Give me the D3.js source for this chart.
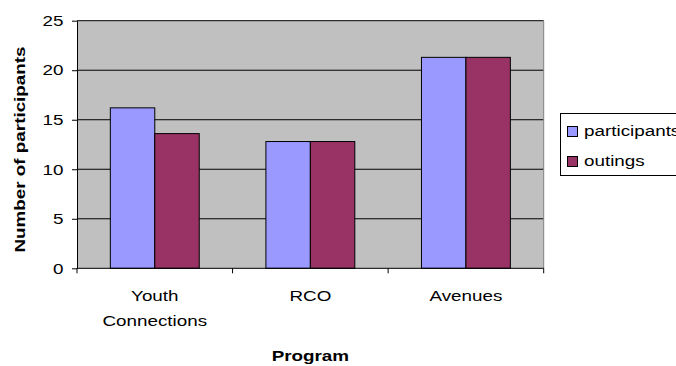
<!DOCTYPE html>
<html>
<head>
<meta charset="utf-8">
<script src="https://cdn.jsdelivr.net/npm/d3@7"></script>
<style>
  html, body { margin: 0; padding: 0; background: #fff; }
  svg { display: block; }
  text { font-family: "Liberation Sans", Arial, sans-serif; fill: #000; }
</style>
</head>
<body>
<svg id="chart" width="676" height="366"></svg>
<script>
// Program categories (multi-line labels) and the two series
const programs = ["Youth Connections", "RCO", "Avenues"];
const programLines = [["Youth", "Connections"], ["RCO"], ["Avenues"]];
const seriesNames = ["participants", "outings"];
const participants = [16.2, 12.8, 21.3];
const outings = [13.6, 12.8, 21.3];
const yTicks = [0, 5, 10, 15, 20, 25];

const colors = { participants: "#9999FF", outings: "#993366" };
const FONT = 14.5;
const STRETCH = 1.3; // wide glyph rendering of the original labels

const svg = d3.select("#chart");

const plot = { left: 77, right: 543.7, top: 20.7, bottom: 268.3 };

const x = d3.scaleBand().domain(programs).range([plot.left, plot.right]).padding(0);
const xInner = d3.scaleBand().domain(seriesNames).range([0, x.bandwidth()])
  .paddingInner(0).paddingOuter(0.75);
const y = d3.scaleLinear().domain([0, 25]).range([plot.bottom, plot.top]);

const rows = programs.map((p, i) => ({ program: p, participants: participants[i], outings: outings[i] }));

// Plot background
svg.append("rect")
  .attr("x", plot.left).attr("y", plot.top)
  .attr("width", plot.right - plot.left).attr("height", plot.bottom - plot.top)
  .attr("fill", "#C0C0C0");

// Horizontal gridlines
svg.append("g").selectAll("line")
  .data(yTicks.filter(d => d > 0))
  .join("line")
  .attr("x1", plot.left).attr("x2", plot.right)
  .attr("y1", d => y(d)).attr("y2", d => y(d))
  .attr("stroke", "#000").attr("stroke-width", 1);

// Right border of the plot area
svg.append("line")
  .attr("x1", plot.right).attr("x2", plot.right)
  .attr("y1", plot.top).attr("y2", plot.bottom)
  .attr("stroke", "#808080").attr("stroke-width", 1);

// Bars
const groups = svg.append("g").selectAll("g")
  .data(rows)
  .join("g")
  .attr("transform", d => `translate(${x(d.program)},0)`);

groups.selectAll("rect")
  .data(d => seriesNames.map(s => ({ key: s, value: d[s] })))
  .join("rect")
  .attr("x", d => xInner(d.key))
  .attr("y", d => y(d.value))
  .attr("width", xInner.bandwidth())
  .attr("height", d => y(0) - y(d.value))
  .attr("fill", d => colors[d.key])
  .attr("stroke", "#000")
  .attr("stroke-width", 1);

// Y axis
const yAxis = svg.append("g")
  .attr("transform", `translate(${plot.left},0)`)
  .call(d3.axisLeft(y).tickValues(yTicks).tickSize(5).tickSizeOuter(0).tickFormat(d3.format("d")));
yAxis.select(".domain").attr("stroke", "#000");
yAxis.selectAll(".tick line").attr("stroke", "#000");
yAxis.selectAll(".tick text")
  .attr("x", null).attr("dy", null)
  .attr("transform", `translate(-13.5,0) scale(${STRETCH},1)`)
  .attr("dominant-baseline", "central")
  .attr("text-anchor", "end")
  .style("font-size", FONT + "px")
  .style("font-family", "'Liberation Sans', Arial, sans-serif")
  .attr("fill", "#000");
// extend the y axis slightly below the x axis
svg.append("line")
  .attr("x1", plot.left).attr("x2", plot.left)
  .attr("y1", plot.bottom).attr("y2", plot.bottom + 5)
  .attr("stroke", "#000");

// X axis: baseline with tick marks at category boundaries
const xAxis = svg.append("g")
  .attr("transform", `translate(0,${plot.bottom})`)
  .call(d3.axisBottom(x).tickSize(0).tickFormat(""));
xAxis.select(".domain").attr("stroke", "#000").attr("d", `M${plot.left},0H${plot.right}`);
xAxis.selectAll(".tick").remove();
const boundaries = programs.slice(1).map(p => x(p)).concat([plot.right]);
xAxis.selectAll(".bound")
  .data(boundaries)
  .join("line")
  .attr("class", "bound")
  .attr("x1", d => d).attr("x2", d => d)
  .attr("y1", 0).attr("y2", 5)
  .attr("stroke", "#000");

// Category labels
const lineY = [296.7, 321.7];
programs.forEach((p, i) => {
  programLines[i].forEach((ln, j) => {
    svg.append("text")
      .attr("transform", `translate(${x(p) + x.bandwidth() / 2},${lineY[j]}) scale(${STRETCH},1)`)
      .attr("text-anchor", "middle")
      .attr("dominant-baseline", "central")
      .style("font-size", FONT + "px")
      .text(ln);
  });
});

// Axis titles
svg.append("text")
  .attr("transform", `translate(${(plot.left + plot.right) / 2},356.7) scale(${STRETCH},1)`)
  .attr("text-anchor", "middle")
  .attr("dominant-baseline", "central")
  .style("font-size", FONT + "px")
  .style("font-weight", "bold")
  .text("Program");

svg.append("text")
  .attr("transform", `translate(20.5,149.5) rotate(-90) scale(${STRETCH},1)`)
  .attr("text-anchor", "middle")
  .attr("dominant-baseline", "central")
  .style("font-size", FONT + "px")
  .style("font-weight", "bold")
  .text("Number of participants");

// Legend
const legend = svg.append("g").attr("transform", "translate(560.5,113.5)");
legend.append("rect")
  .attr("width", 130).attr("height", 62)
  .attr("fill", "#fff").attr("stroke", "#000").attr("stroke-width", 1);
const items = legend.selectAll("g.item")
  .data(seriesNames)
  .join("g")
  .attr("class", "item")
  .attr("transform", (d, i) => `translate(7,${13 + i * 30})`);
items.append("rect")
  .attr("width", 10).attr("height", 10)
  .attr("fill", d => colors[d])
  .attr("stroke", "#000").attr("stroke-width", 1);
items.append("text")
  .attr("transform", `translate(16.5,5) scale(${STRETCH},1)`)
  .attr("dominant-baseline", "central")
  .style("font-size", FONT + "px")
  .text(d => d);
</script>
</body>
</html>
